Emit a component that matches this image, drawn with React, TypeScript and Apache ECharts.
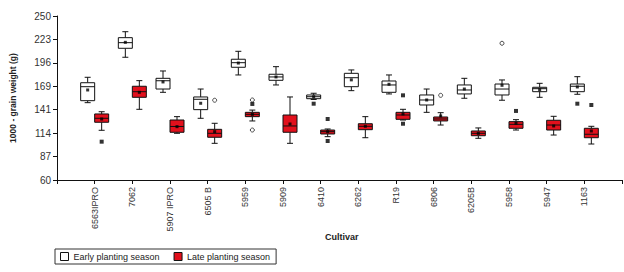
import React, { useEffect, useRef } from "react";
import * as echarts from "echarts";

const cultivars = ["6563IPRO", "7062", "5907 IPRO", "6505 B", "5959", "5909", "6410", "6262", "R19", "6806", "6205B", "5958", "5947", "1163"];

const yTicks = [60, 87, 114, 141, 169, 196, 223, 250];

// Early planting season
const earlyLow = [149.6, 202.2, 161.6, 131.5, 181.7, 170.1, 153.3, 163.5, 159.7, 138.4, 154.7, 152.4, 155.8, 159.3];
const earlyQ1 = [151.9, 212.6, 165.4, 141.5, 190.6, 175.5, 154.2, 168.1, 161.6, 146.9, 159.7, 158.5, 162.3, 162.3];
const earlyMedian = [168.1, 219.1, 175.0, 153.5, 195.9, 179.4, 156.5, 178.5, 170.1, 152.7, 164.3, 165.4, 165.8, 168.6];
const earlyQ3 = [172.7, 224.9, 177.8, 156.2, 199.9, 182.5, 158.5, 183.6, 174.7, 158.5, 170.1, 171.2, 167.4, 171.2];
const earlyHigh = [179.0, 231.8, 186.3, 165.4, 209.1, 191.3, 160.5, 187.5, 181.7, 165.4, 177.8, 175.9, 172.0, 179.7];
const earlyMean = [164.3, 219.5, 173.6, 148.9, 195.5, 179.4, 156.5, 176.0, 170.9, 152.7, 165.4, 169.7, 164.5, 167.8];
const earlyExtremes: [string, number][] = [["6410", 148.4], ["1163", 148.4]];
const earlyOutliers: [string, number][] = [["5958", 218.4]];

// Late planting season
const lateLow = [117.6, 141.9, 114.1, 102.5, 128.4, 102.5, 110.2, 109.0, 129.5, 123.7, 108.3, 117.9, 112.1, 101.7];
const lateQ1 = [126.9, 155.8, 115.3, 109.5, 133.4, 115.3, 113.3, 118.3, 130.3, 128.4, 111.3, 119.9, 117.9, 109.0];
const lateMedian = [131.5, 162.3, 122.0, 114.1, 136.1, 122.6, 116.0, 122.2, 135.3, 130.7, 114.1, 124.5, 123.7, 113.0];
const lateQ3 = [136.5, 168.6, 129.5, 118.7, 138.4, 135.3, 117.9, 125.2, 138.4, 133.0, 116.8, 127.6, 129.2, 119.9];
const lateHigh = [139.1, 175.1, 133.4, 125.7, 141.0, 156.2, 119.1, 133.4, 141.9, 138.0, 120.3, 129.9, 133.8, 122.2];
const lateMean = [130.7, 161.6, 121.8, 116.0, 136.0, 124.9, 116.0, 122.2, 136.5, 134.2, 114.0, 125.7, 122.6, 116.8];
const lateExtremes: [string, number][] = [["6563IPRO", 104.4], ["5959", 148.1], ["6410", 130.7], ["6410", 105.2], ["R19", 158.1], ["R19", 125.2], ["5958", 140.0], ["1163", 146.9]];
const lateOutliers: [string, number][] = [["6505 B", 152.4], ["5959", 152.7], ["5959", 117.9], ["6806", 158.1]];

const EARLY = "Early planting season";
const LATE = "Late planting season";
const RED = "#e2101c";
const FONT = "'Liberation Sans Narrow', 'Arial Narrow', 'Liberation Sans', Arial, sans-serif";
const BOX_W = 14;

function boxData(low: number[], q1: number[], med: number[], q3: number[], high: number[]) {
  return cultivars.map((_, i) => [i + 1, low[i], q1[i], med[i], q3[i], high[i]]);
}

function pts(list: [string, number][]) {
  return list.map(([c, v]) => [cultivars.indexOf(c) + 1, v]);
}

function makeRender(side: number, fill: string) {
  return (params: any, api: any) => {
    const x = api.value(0);
    const pLow = api.coord([x, api.value(1)]);
    const pQ1 = api.coord([x, api.value(2)]);
    const pMed = api.coord([x, api.value(3)]);
    const pQ3 = api.coord([x, api.value(4)]);
    const pHigh = api.coord([x, api.value(5)]);
    const cx = pLow[0] + side * (BOX_W / 2);
    const x0 = cx - BOX_W / 2;
    const stroke = { stroke: "#111", lineWidth: 1 };
    const cap = 3;
    return {
      type: "group",
      children: [
        { type: "line", shape: { x1: cx, y1: pHigh[1], x2: cx, y2: pQ3[1] }, style: stroke },
        { type: "line", shape: { x1: cx, y1: pQ1[1], x2: cx, y2: pLow[1] }, style: stroke },
        { type: "line", shape: { x1: cx - cap, y1: pHigh[1], x2: cx + cap, y2: pHigh[1] }, style: stroke },
        { type: "line", shape: { x1: cx - cap, y1: pLow[1], x2: cx + cap, y2: pLow[1] }, style: stroke },
        { type: "rect", shape: { x: x0, y: pQ3[1], width: BOX_W, height: pQ1[1] - pQ3[1] }, style: { fill, stroke: "#111", lineWidth: 1 } },
        { type: "line", shape: { x1: x0, y1: pMed[1], x2: x0 + BOX_W, y2: pMed[1] }, style: stroke },
      ],
    };
  };
}

export default function App() {
  const ref = useRef<HTMLDivElement>(null);
  useEffect(() => {
    if (!ref.current) return;
    const chart = echarts.init(ref.current, undefined, { renderer: "svg" });
    const interval = (yTicks[yTicks.length - 1] - yTicks[0]) / (yTicks.length - 1);
    chart.setOption({
      animation: false,
      backgroundColor: "#fff",
      grid: { left: 53, right: 2, top: 16, bottom: 92, containLabel: false },
      legend: {
        left: 55,
        top: 249,
        orient: "horizontal",
        itemWidth: 8,
        itemHeight: 8,
        itemGap: 14,
        padding: [3, 6, 3, 5],
        borderColor: "#333",
        borderWidth: 1,
        textStyle: { fontFamily: FONT, fontSize: 9, color: "#222" },
        data: [
          { name: EARLY, icon: "rect", itemStyle: { color: "#fff", borderColor: "#111", borderWidth: 1 } },
          { name: LATE, icon: "rect", itemStyle: { color: RED, borderColor: "#111", borderWidth: 1 } },
        ],
      },
      graphic: [
        {
          type: "text",
          left: 325,
          top: 232,
          style: { text: "Cultivar", fontFamily: FONT, fontSize: 9, fontWeight: "bold", fill: "#222" },
        },
      ],
      xAxis: {
        type: "value",
        min: 0,
        max: cultivars.length + 1,
        interval: 1,
        splitLine: { show: false },
        axisLine: { lineStyle: { color: "#111" } },
        axisTick: { show: true, length: 4, lineStyle: { color: "#111" } },
        axisLabel: {
          rotate: 90,
          margin: 7,
          fontFamily: FONT,
          fontSize: 9,
          color: "#333",
          formatter: (v: number) => (v >= 1 && v <= cultivars.length ? cultivars[v - 1] : ""),
        },
      },
      yAxis: {
        type: "value",
        min: yTicks[0],
        max: yTicks[yTicks.length - 1],
        interval,
        splitLine: { show: false },
        axisLine: { show: true, lineStyle: { color: "#111" } },
        axisTick: { show: true, length: 4, lineStyle: { color: "#111" } },
        axisLabel: {
          margin: 6,
          fontFamily: FONT,
          fontSize: 10,
          color: "#333",
          formatter: (v: number) => String(Math.round(v)),
        },
        name: "1000 - grain weight (g)",
        nameLocation: "middle",
        nameRotate: 90,
        nameGap: 40,
        nameTextStyle: { fontFamily: FONT, fontSize: 8.5, fontWeight: "bold", color: "#222" },
      },
      series: [
        {
          name: EARLY,
          type: "custom",
          renderItem: makeRender(-1, "#fff"),
          encode: { x: 0, y: [1, 2, 3, 4, 5] },
          itemStyle: { color: "#fff", borderColor: "#111" },
          data: boxData(earlyLow, earlyQ1, earlyMedian, earlyQ3, earlyHigh),
          z: 2,
        },
        {
          name: LATE,
          type: "custom",
          renderItem: makeRender(1, RED),
          encode: { x: 0, y: [1, 2, 3, 4, 5] },
          itemStyle: { color: RED, borderColor: "#111" },
          data: boxData(lateLow, lateQ1, lateMedian, lateQ3, lateHigh),
          z: 2,
        },
        {
          name: "early-mean",
          type: "scatter",
          symbol: "rect",
          symbolSize: 3,
          symbolOffset: [-BOX_W / 2, 0],
          itemStyle: { color: "#000" },
          data: earlyMean.map((v, i) => [i + 1, v]),
          z: 5,
        },
        {
          name: "late-mean",
          type: "scatter",
          symbol: "rect",
          symbolSize: 3,
          symbolOffset: [BOX_W / 2, 0],
          itemStyle: { color: "#000" },
          data: lateMean.map((v, i) => [i + 1, v]),
          z: 5,
        },
        {
          name: "early-extreme",
          type: "scatter",
          symbol: "rect",
          symbolSize: 4,
          symbolOffset: [-BOX_W / 2, 0],
          itemStyle: { color: "#000" },
          data: pts(earlyExtremes),
          z: 5,
        },
        {
          name: "late-extreme",
          type: "scatter",
          symbol: "rect",
          symbolSize: 4,
          symbolOffset: [BOX_W / 2, 0],
          itemStyle: { color: "#000" },
          data: pts(lateExtremes),
          z: 5,
        },
        {
          name: "early-outlier",
          type: "scatter",
          symbol: "circle",
          symbolSize: 4,
          symbolOffset: [-BOX_W / 2, 0],
          itemStyle: { color: "#fff", borderColor: "#222", borderWidth: 1 },
          data: pts(earlyOutliers),
          z: 5,
        },
        {
          name: "late-outlier",
          type: "scatter",
          symbol: "circle",
          symbolSize: 4,
          symbolOffset: [BOX_W / 2, 0],
          itemStyle: { color: "#fff", borderColor: "#222", borderWidth: 1 },
          data: pts(lateOutliers),
          z: 5,
        },
      ],
    });
    return () => chart.dispose();
  }, []);
  return <div ref={ref} style={{ position: "fixed", left: 0, top: 0, width: 624, height: 272 }} />;
}
